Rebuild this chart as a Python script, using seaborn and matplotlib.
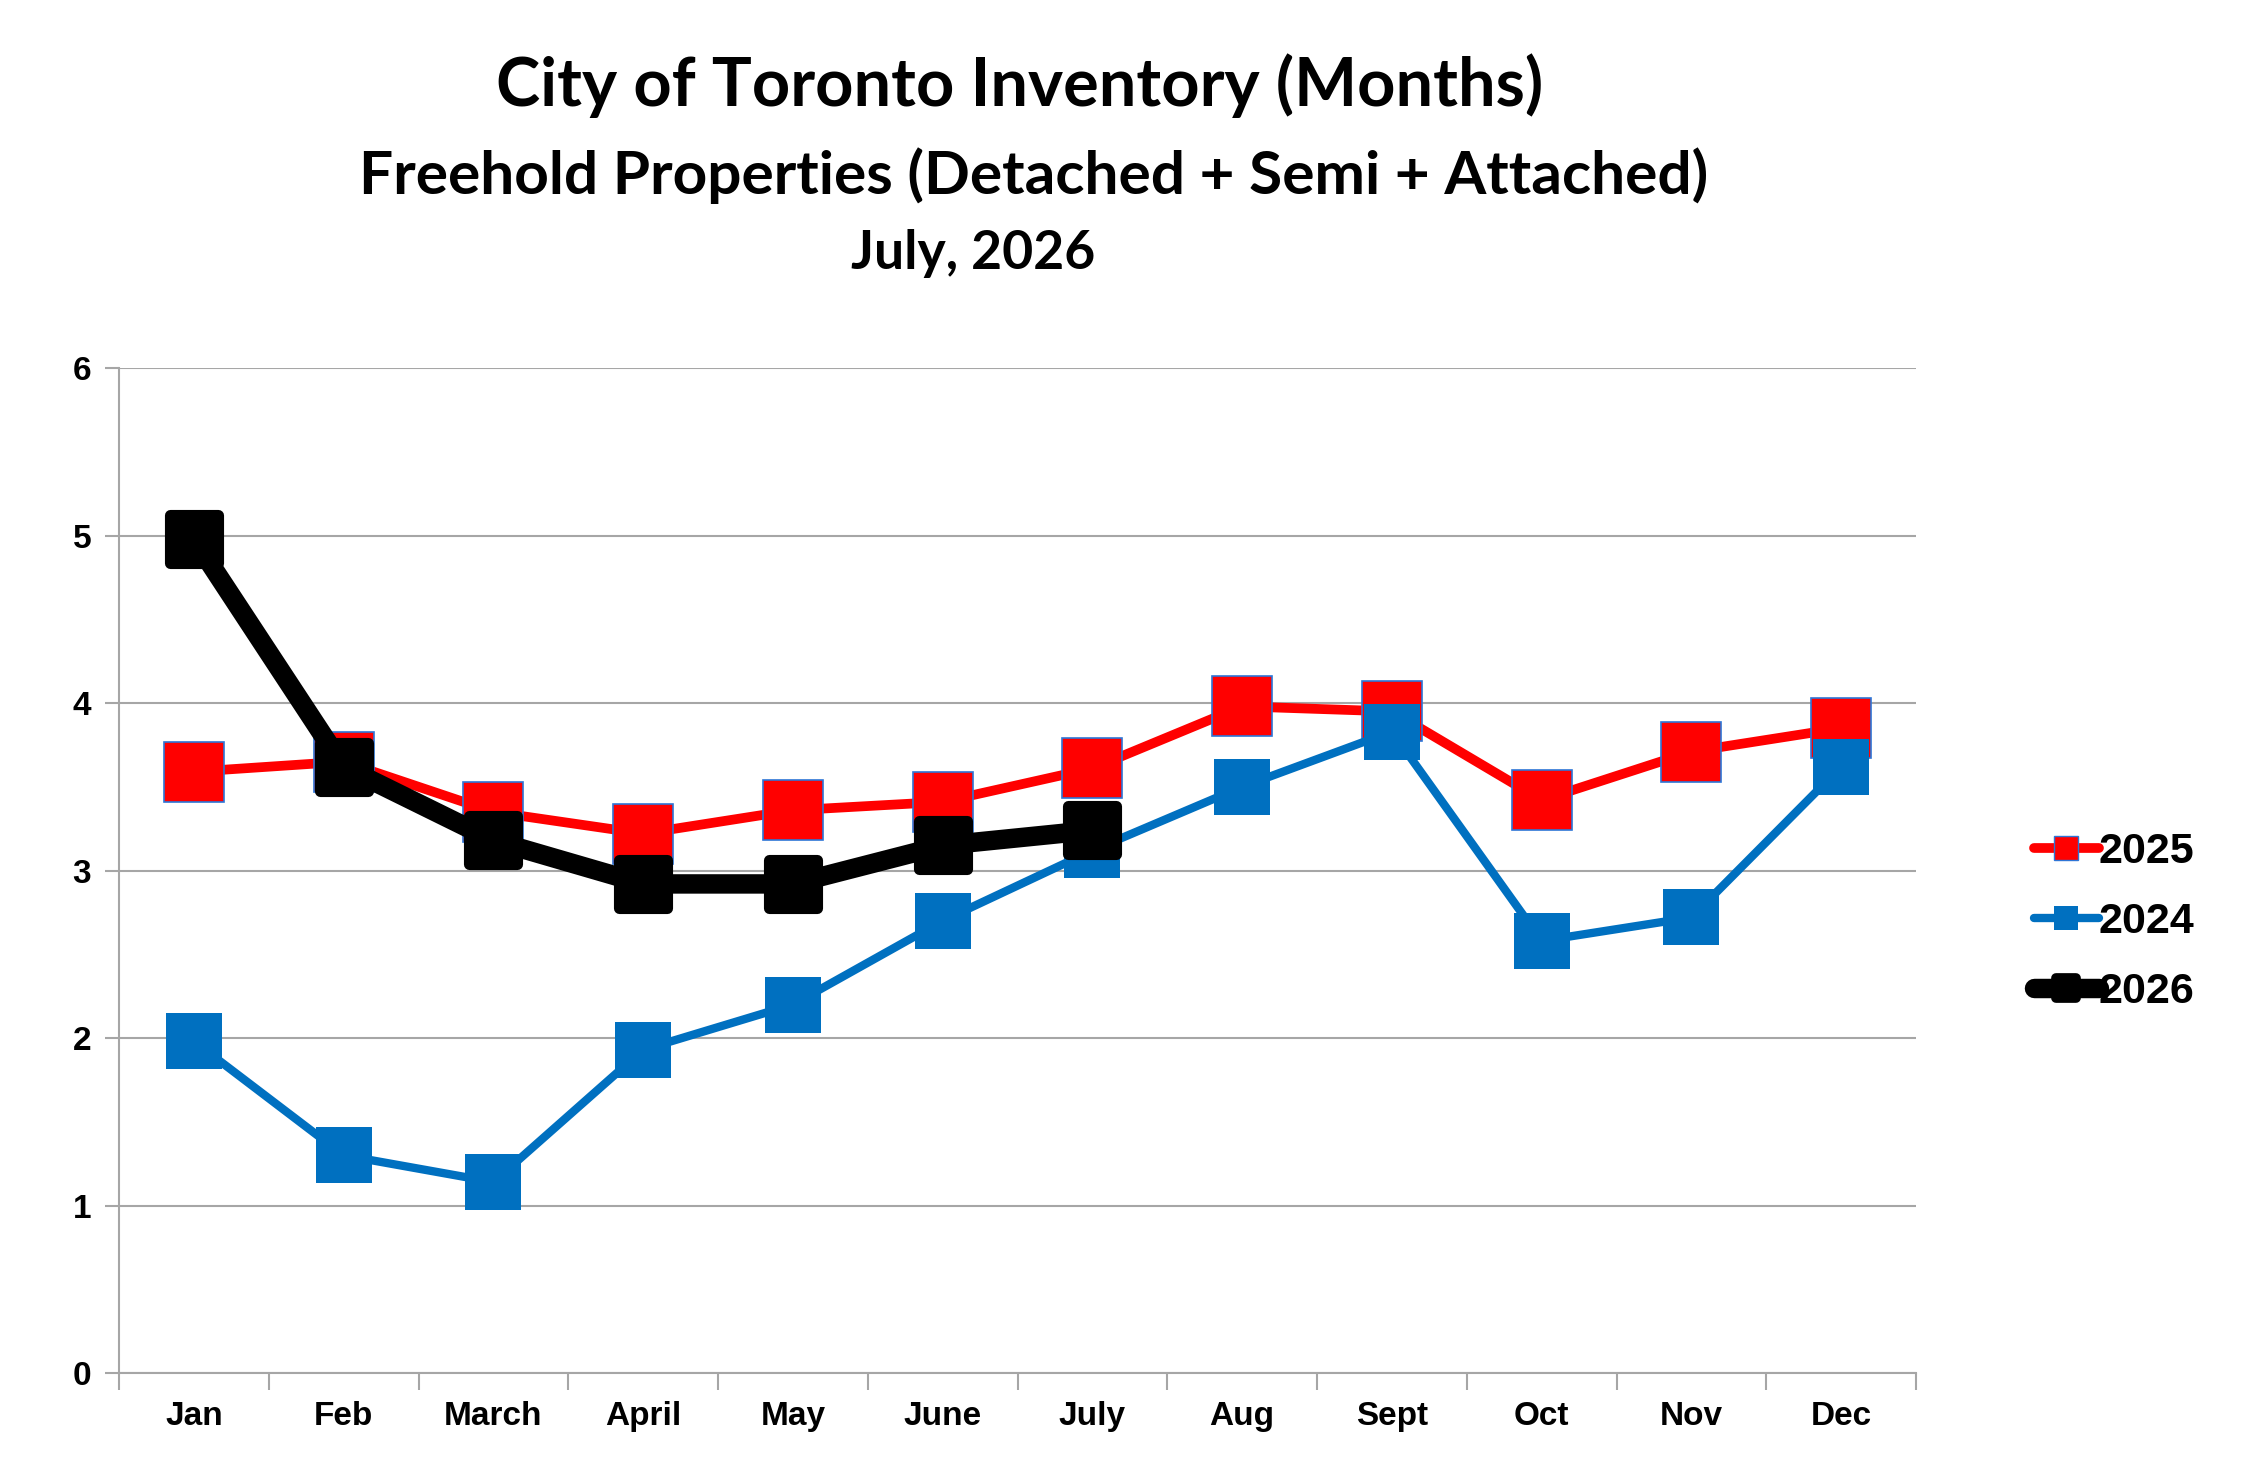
import matplotlib
matplotlib.use("Agg")
import matplotlib.pyplot as plt
from matplotlib.lines import Line2D
from matplotlib.markers import MarkerStyle
import seaborn as sns
import pandas as pd

months = ["Jan", "Feb", "March", "April", "May", "June", "July",
          "Aug", "Sept", "Oct", "Nov", "Dec"]
values_2025 = [3.59, 3.65, 3.35, 3.22, 3.36, 3.41, 3.61, 3.98, 3.95, 3.42, 3.71, 3.85]
values_2024 = [1.98, 1.30, 1.14, 1.93, 2.20, 2.70, 3.12, 3.50, 3.83, 2.58, 2.72, 3.62]
values_2026 = [4.98, 3.62, 3.18, 2.92, 2.92, 3.15, 3.24]
y_ticks = [0, 1, 2, 3, 4, 5, 6]

title1 = "City of Toronto Inventory (Months)"
title2 = "Freehold Properties (Detached + Semi + Attached)"
title3 = "July, 2026"

sns.set_theme(style="white")
plt.rcParams["font.family"] = ["Liberation Sans", "DejaVu Sans"]
plt.rcParams["text.color"] = "black"

fig = plt.figure(figsize=(22.42, 14.8), dpi=100)
ax = fig.add_axes([0.0531, 0.0723, 0.8015, 0.679])

df25 = pd.DataFrame({"x": range(len(values_2025)), "y": values_2025})
df24 = pd.DataFrame({"x": range(len(values_2024)), "y": values_2024})
df26 = pd.DataFrame({"x": range(len(values_2026)), "y": values_2026})

sq_round = MarkerStyle("s", joinstyle="round")

sns.lineplot(data=df25, x="x", y="y", ax=ax, color="#FF0000", linewidth=7,
             marker="s", markersize=43, markerfacecolor="#FF0000",
             markeredgecolor="#2E75D6", markeredgewidth=1.2, zorder=3)
sns.lineplot(data=df24, x="x", y="y", ax=ax, color="#0070C0", linewidth=6,
             marker="s", markersize=40, markerfacecolor="#0070C0",
             markeredgecolor="#0070C0", markeredgewidth=0, zorder=4)
sns.lineplot(data=df26, x="x", y="y", ax=ax, color="#000000", linewidth=14,
             marker=sq_round, markersize=35, markerfacecolor="#000000",
             markeredgecolor="#000000", markeredgewidth=8, zorder=5)

ax.set_xlim(-0.5, len(months) - 0.5)
ax.set_ylim(0, 6)
ax.set_yticks(y_ticks)
ax.set_yticklabels([str(t) for t in y_ticks], fontsize=24, fontweight="bold")
ax.set_xticks([i - 0.5 for i in range(len(months) + 1)])
ax.set_xticklabels([])
ax.set_xticks(range(len(months)), minor=True)
ax.set_xticklabels(months, minor=True, fontsize=24, fontweight="bold")
ax.tick_params(axis="x", which="major", direction="out", length=12, width=1.5,
               color="#A6A6A6", bottom=True)
ax.tick_params(axis="x", which="minor", length=0, pad=20)
ax.tick_params(axis="y", direction="out", length=10, width=1.5, color="#A6A6A6",
               left=True, pad=10)
ax.set_xlabel("")
ax.set_ylabel("")
ax.yaxis.grid(True, color="#A6A6A6", linewidth=1.5)
ax.xaxis.grid(False)
for s in ["top", "right"]:
    ax.spines[s].set_visible(False)
for s in ["left", "bottom"]:
    ax.spines[s].set_color("#A6A6A6")
    ax.spines[s].set_linewidth(1.5)
for lab in ax.get_yticklabels() + ax.get_xticklabels(minor=True):
    lab.set_color("black")

handles = [
    Line2D([0], [0], color="#FF0000", linewidth=7, marker="s", markersize=17,
           markerfacecolor="#FF0000", markeredgecolor="#2E75D6", markeredgewidth=1),
    Line2D([0], [0], color="#0070C0", linewidth=6, marker="s", markersize=17,
           markerfacecolor="#0070C0", markeredgewidth=0),
    Line2D([0], [0], color="#000000", linewidth=14, marker=sq_round, markersize=15,
           markerfacecolor="#000000", markeredgecolor="#000000", markeredgewidth=7),
]
fig.legend(handles, ["2025", "2024", "2026"], loc="center left",
           bbox_to_anchor=(0.890, 0.377), frameon=False, handlelength=1.5,
           handletextpad=0.0, labelspacing=0.7,
           prop={"family": "Liberation Sans", "weight": "bold", "size": 31})

tfont = ["Lato", "DejaVu Sans"]
fig.text(0.455, 0.942, title1, ha="center", va="center", fontsize=48,
         fontweight="bold", family=tfont, color="black")
fig.text(0.461, 0.881, title2, ha="center", va="center", fontsize=43.5,
         fontweight="bold", family=tfont, color="black")
fig.text(0.434, 0.829, title3, ha="center", va="center", fontsize=38.5,
         fontweight="bold", family=tfont, color="black")

fig.savefig("out.png", dpi=100)
